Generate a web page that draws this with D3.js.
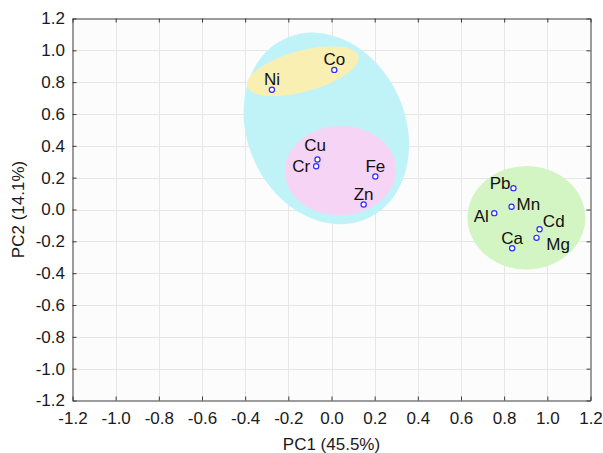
<!DOCTYPE html>
<html>
<head>
<meta charset="utf-8">
<script src="https://cdn.jsdelivr.net/npm/d3@7/dist/d3.min.js"></script>
<style>
  html, body { margin: 0; padding: 0; background: #ffffff; }
  svg { display: block; font-family: "Liberation Sans", Arial, sans-serif; }
</style>
</head>
<body>
<svg id="chart" width="603" height="453"></svg>
<script>
// ---- data ----
const elements = ["Ni", "Co", "Cu", "Cr", "Fe", "Zn", "Pb", "Mn", "Al", "Cd", "Mg", "Ca"];
const pc1 = [-0.276, 0.013, -0.065, -0.071, 0.203, 0.149, 0.843, 0.834, 0.754, 0.964, 0.950, 0.837];
const pc2 = [0.752, 0.877, 0.314, 0.272, 0.207, 0.031, 0.134, 0.017, -0.023, -0.124, -0.178, -0.243];

const xTicks = [-1.2, -1.0, -0.8, -0.6, -0.4, -0.2, 0.0, 0.2, 0.4, 0.6, 0.8, 1.0, 1.2];
const yTicks = [-1.2, -1.0, -0.8, -0.6, -0.4, -0.2, 0.0, 0.2, 0.4, 0.6, 0.8, 1.0, 1.2];
const xTitle = "PC1 (45.5%)";
const yTitle = "PC2 (14.1%)";

// cluster ellipses (centre and semi-axes in data units, tilt in degrees)
const groupCX = [-0.024, -0.133, 0.041, 0.903];
const groupCY = [0.509, 0.869, 0.244, -0.052];
const groupRX = [0.366, 0.267, 0.258, 0.273];
const groupRY = [0.622, 0.129, 0.280, 0.325];
const groupTilt = [-24.5, -15.2, -2, 0];

// ---- styles ----
const groupColors = ["#c0f3f8", "#f9efb2", "#f6d4f6", "#d2f5c3"];
// label placement: [anchor, dx, dy] in pixels
const labelPlace = {
  Ni: ["middle", 0, -5], Co: ["middle", 0, -5.3], Cu: ["middle", -2.4, -9],
  Cr: ["end", -6, 6], Fe: ["middle", 0, -5], Zn: ["middle", 0, -5],
  Pb: ["end", -3, 1], Mn: ["start", 5, 3], Al: ["end", -5.4, 9],
  Cd: ["start", 3.3, -2.4], Mg: ["start", 9.7, 11.7], Ca: ["middle", 0, -4.4]
};

const svg = d3.select("#chart");
const x = d3.scaleLinear().domain([-1.2, 1.2]).range([72.5, 590.5]);
const y = d3.scaleLinear().domain([-1.2, 1.2]).range([400.5, 18.5]);
const fmt = d => d.toFixed(1);

// plot background
svg.append("rect")
  .attr("x", x(-1.2)).attr("y", y(1.2))
  .attr("width", x(1.2) - x(-1.2)).attr("height", y(-1.2) - y(1.2))
  .attr("fill", "#fcfcfc");

// grid
const grid = svg.append("g").attr("stroke", "#e6e6e6").attr("stroke-width", 1);
grid.selectAll("line.vx").data(xTicks.slice(1, -1)).join("line")
  .attr("x1", d => Math.round(x(d)) + 0.5).attr("x2", d => Math.round(x(d)) + 0.5)
  .attr("y1", y(1.2)).attr("y2", y(-1.2));
grid.selectAll("line.hy").data(yTicks.slice(1, -1)).join("line")
  .attr("y1", d => Math.round(y(d)) + 0.5).attr("y2", d => Math.round(y(d)) + 0.5)
  .attr("x1", x(-1.2)).attr("x2", x(1.2));

// ellipses
const ell = svg.append("g");
groupCX.forEach((cxv, i) => {
  const cx = x(cxv), cy = y(groupCY[i]);
  const rx = x(cxv + groupRX[i]) - cx;
  const ry = cy - y(groupCY[i] + groupRY[i]);
  ell.append("ellipse")
    .attr("cx", cx).attr("cy", cy).attr("rx", rx).attr("ry", ry)
    .attr("transform", `rotate(${groupTilt[i]},${cx},${cy})`)
    .attr("fill", groupColors[i]);
});

// axes (ticks inside)
function styleAxis(g) {
  g.select(".domain").attr("stroke", "#3a3a3a");
  g.selectAll(".tick line").attr("stroke", "#3a3a3a");
  g.selectAll("text").attr("font-size", 17).attr("fill", "#1a1a1a")
    .attr("font-family", "'Liberation Sans', Arial, sans-serif");
}
const noLab = () => "";
svg.append("g").attr("transform", `translate(0,${y(-1.2)})`)
  .call(d3.axisBottom(x).tickValues(xTicks).tickFormat(fmt).tickSizeInner(-4).tickSizeOuter(0).tickPadding(11.5))
  .call(styleAxis);
svg.append("g").attr("transform", `translate(0,${y(1.2)})`)
  .call(d3.axisTop(x).tickValues(xTicks).tickFormat(noLab).tickSizeInner(-4).tickSizeOuter(0))
  .call(styleAxis);
svg.append("g").attr("transform", `translate(${x(-1.2)},0)`)
  .call(d3.axisLeft(y).tickValues(yTicks).tickFormat(fmt).tickSizeInner(-4).tickSizeOuter(0).tickPadding(7.5))
  .call(styleAxis);
svg.append("g").attr("transform", `translate(${x(1.2)},0)`)
  .call(d3.axisRight(y).tickValues(yTicks).tickFormat(noLab).tickSizeInner(-4).tickSizeOuter(0))
  .call(styleAxis);

// points
svg.append("g").selectAll("circle").data(elements).join("circle")
  .attr("cx", (d, i) => x(pc1[i])).attr("cy", (d, i) => y(pc2[i]))
  .attr("r", 2.6).attr("fill", "#ffffff").attr("stroke", "#2b2bff").attr("stroke-width", 1.2);

// labels
svg.append("g").selectAll("text").data(elements).join("text")
  .attr("x", (d, i) => x(pc1[i]) + labelPlace[d][1])
  .attr("y", (d, i) => y(pc2[i]) + labelPlace[d][2])
  .attr("text-anchor", d => labelPlace[d][0])
  .attr("font-size", 17).attr("fill", "#111")
  .text(d => d);

// axis titles
svg.append("text")
  .attr("x", (x(-1.2) + x(1.2)) / 2).attr("y", 449.5)
  .attr("text-anchor", "middle").attr("font-size", 17).attr("fill", "#1a1a1a")
  .text(xTitle);
svg.append("text")
  .attr("transform", `translate(24.3,${(y(-1.2) + y(1.2)) / 2}) rotate(-90)`)
  .attr("text-anchor", "middle").attr("font-size", 17).attr("fill", "#1a1a1a")
  .text(yTitle);
</script>
</body>
</html>
